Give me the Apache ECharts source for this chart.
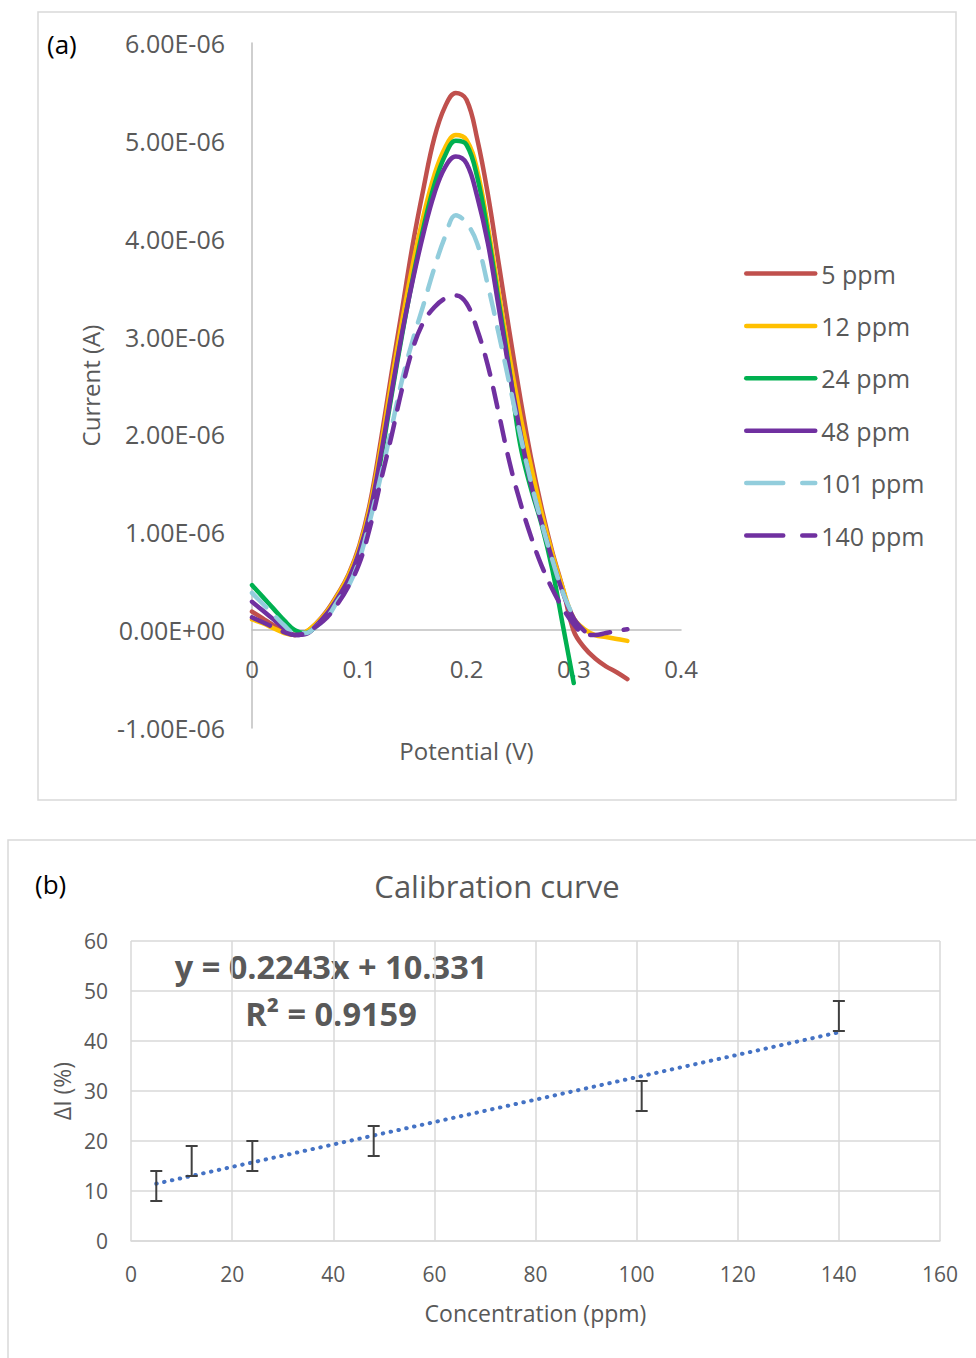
<!DOCTYPE html>
<html>
<head>
<meta charset="utf-8">
<title>Voltammetry and calibration curve</title>
<script src="https://cdn.jsdelivr.net/npm/echarts@6.0.0/dist/echarts.min.js"></script>
<style>
  html, body { margin: 0; padding: 0; background: #fff; }
  #chart { width: 976px; height: 1358px; }
</style>
</head>
<body>
<div id="chart"></div>
<script>
// ---- panel (a): current (x1e-6 A) vs potential (V)
const potential = [0, 0.01, 0.02, 0.03, 0.04, 0.05, 0.06, 0.07, 0.08, 0.09,
  0.10, 0.11, 0.12, 0.13, 0.14, 0.15, 0.16, 0.17, 0.18, 0.19,
  0.20, 0.21, 0.22, 0.23, 0.24, 0.25, 0.26, 0.27, 0.28, 0.29,
  0.30, 0.31, 0.32, 0.33, 0.34, 0.35];
const cur5 = [0.19, 0.12, 0.05, -0.01, -0.05, -0.02, 0.07, 0.20, 0.37, 0.57,
  0.86, 1.30, 1.93, 2.62, 3.28, 3.95, 4.52, 5.03, 5.35, 5.49,
  5.42, 5.02, 4.45, 3.75, 3.05, 2.38, 1.77, 1.25, 0.80, 0.42,
  -0.01, -0.18, -0.29, -0.37, -0.43, -0.50];
const cur12 = [0.11, 0.07, 0.02, -0.03, -0.05, -0.02, 0.07, 0.19, 0.36, 0.56,
  0.84, 1.26, 1.86, 2.53, 3.16, 3.74, 4.24, 4.65, 4.93, 5.06,
  5.01, 4.70, 4.12, 3.45, 2.80, 2.20, 1.68, 1.20, 0.78, 0.42,
  0.12, 0.01, -0.05, -0.07, -0.09, -0.11];
const cur24 = [0.46, 0.34, 0.22, 0.10, 0.00, -0.03, 0.04, 0.15, 0.31, 0.50,
  0.78, 1.18, 1.74, 2.39, 3.02, 3.60, 4.12, 4.55, 4.85, 5.00,
  4.96, 4.63, 4.05, 3.36, 2.66, 1.90, 1.45, 1.08, 0.62, 0.04,
  -0.54];
const cur48 = [0.29, 0.20, 0.11, 0.02, -0.05, -0.04, 0.05, 0.17, 0.33, 0.52,
  0.80, 1.20, 1.78, 2.42, 3.04, 3.58, 4.06, 4.46, 4.73, 4.84,
  4.77, 4.43, 3.95, 3.30, 2.64, 2.03, 1.50, 1.10, 0.72, 0.38,
  0.12, -0.01];
const cur101 = [0.38, 0.27, 0.16, 0.05, -0.03, -0.03, 0.04, 0.13, 0.30, 0.45,
  0.72, 1.12, 1.57, 2.06, 2.56, 2.97, 3.33, 3.70, 4.02, 4.24,
  4.16, 3.95, 3.52, 3.03, 2.52, 2.00, 1.52, 1.10, 0.72, 0.38,
  0.13];
const cur140 = [0.13, 0.08, 0.03, -0.02, -0.05, -0.03, 0.04, 0.13, 0.27, 0.45,
  0.68, 1.05, 1.52, 1.98, 2.47, 2.88, 3.15, 3.30, 3.39, 3.42,
  3.34, 3.07, 2.70, 2.22, 1.72, 1.31, 0.96, 0.66, 0.42, 0.22,
  0.06, -0.04, -0.05, -0.03, -0.01, 0.01];
const seriesNames = ['5 ppm', '12 ppm', '24 ppm', '48 ppm', '101 ppm', '140 ppm'];
const yTicksA = ['-1.00E-06', '0.00E+00', '1.00E-06', '2.00E-06', '3.00E-06',
  '4.00E-06', '5.00E-06', '6.00E-06'];

// ---- panel (b): calibration
const concentration = [5, 12, 24, 48, 101, 140];
const deltaI = [11, 16, 17, 20, 29, 45];
const deltaErr = [3, 3, 3, 3, 3, 3];
const fitCoef = [0.2243, 10.331];   // slope, intercept from the chart
const fitRange = [5, 140];

const FONT = '"Open Sans", "Noto Sans", sans-serif';
const TXT = '#595959';

function pairs(ys) {
  return ys.map((y, i) => [potential[i], y]);
}

const styles = [
  { color: '#C0504D', type: 'solid' },
  { color: '#FFC000', type: 'solid' },
  { color: '#00B050', type: 'solid' },
  { color: '#7030A0', type: 'solid' },
  { color: '#92CDDC', type: [20, 14] },
  { color: '#7030A0', type: [20, 14] }
];
const currents = [cur5, cur12, cur24, cur48, cur101, cur140];

const lineSeries = currents.map((ys, i) => ({
  name: seriesNames[i],
  type: 'line',
  xAxisIndex: 0,
  yAxisIndex: 0,
  data: pairs(ys),
  smooth: 0.4,
  symbol: 'none',
  color: styles[i].color,
  lineStyle: { width: 4.5, color: styles[i].color, type: styles[i].type, cap: 'round', join: 'round' }
}));

const errData = concentration.map((c, i) => [c, deltaI[i] - deltaErr[i], deltaI[i] + deltaErr[i]]);
const fitData = fitRange.map(x => [x, fitCoef[0] * x + fitCoef[1]]);

const chart = echarts.init(document.getElementById('chart'), null, { renderer: 'svg' });

chart.setOption({
  animation: false,
  textStyle: { fontFamily: FONT },
  grid: [
    { left: 252, top: 43, width: 429, height: 685 },
    { left: 131, top: 941, width: 809, height: 300 }
  ],
  legend: {
    orient: 'vertical',
    left: 744,
    top: 261,
    padding: 0,
    itemWidth: 69,
    itemHeight: 24,
    itemGap: 27.4,
    itemStyle: { opacity: 0 },
    lineStyle: { width: 4.5, cap: 'round' },
    textStyle: { color: TXT, fontSize: 25, fontFamily: FONT, padding: [0, 0, 0, 1] },
    data: seriesNames.map((n, i) => i < 4 ? { name: n } :
      { name: n, lineStyle: { width: 4.5, type: [37, 19], cap: 'round' } })
  },
  xAxis: [
    {
      gridIndex: 0, type: 'value', min: 0, max: 0.4, interval: 0.1,
      position: 'bottom', offset: -685 / 7,
      name: 'Potential (V)', nameLocation: 'middle', nameGap: 108,
      nameTextStyle: { color: TXT, fontSize: 24, fontFamily: FONT },
      axisLine: { onZero: false, lineStyle: { color: '#BFBFBF', width: 1.5 } },
      axisTick: { show: false },
      splitLine: { show: false },
      axisLabel: { color: TXT, fontSize: 24, margin: 26, fontFamily: FONT }
    },
    {
      gridIndex: 1, type: 'value', min: 0, max: 160, interval: 20,
      name: 'Concentration (ppm)', nameLocation: 'middle', nameGap: 60,
      nameTextStyle: { color: TXT, fontSize: 23, fontFamily: FONT },
      axisLine: { lineStyle: { color: '#D9D9D9', width: 1.5 } },
      axisTick: { show: false },
      splitLine: { show: true, lineStyle: { color: '#D9D9D9', width: 1.5 } },
      axisLabel: { color: TXT, fontSize: 21, margin: 22, fontFamily: FONT }
    }
  ],
  yAxis: [
    {
      gridIndex: 0, type: 'value', min: -1, max: 6, interval: 1,
      name: 'Current (A)', nameLocation: 'middle', nameGap: 150,
      nameTextStyle: { color: TXT, fontSize: 24, fontFamily: FONT },
      axisLine: { show: true, onZero: false, lineStyle: { color: '#BFBFBF', width: 1.5 } },
      axisTick: { show: false },
      splitLine: { show: false },
      axisLabel: {
        color: TXT, fontSize: 25, margin: 27, fontFamily: FONT,
        formatter: v => yTicksA[Math.round(v) + 1]
      }
    },
    {
      gridIndex: 1, type: 'value', min: 0, max: 60, interval: 10,
      name: 'ΔI (%)', nameLocation: 'middle', nameGap: 57,
      nameTextStyle: { color: TXT, fontSize: 23, fontFamily: FONT },
      axisLine: { show: false },
      axisTick: { show: false },
      splitLine: { show: true, lineStyle: { color: '#D9D9D9', width: 1.5 } },
      axisLabel: { color: TXT, fontSize: 21, margin: 23, fontFamily: FONT }
    }
  ],
  series: lineSeries.concat([
    {
      name: 'trend',
      type: 'line',
      xAxisIndex: 1,
      yAxisIndex: 1,
      data: fitData,
      symbol: 'none',
      lineStyle: { color: '#4472C4', width: 4, type: [0.5, 7.5], cap: 'round' },
      z: 3
    },
    {
      name: 'error',
      type: 'custom',
      xAxisIndex: 1,
      yAxisIndex: 1,
      data: errData,
      z: 4,
      renderItem: function (params, api) {
        const x = api.value(0);
        const top = api.coord([x, api.value(2)]);
        const bot = api.coord([x, api.value(1)]);
        const w = 6;
        const st = { stroke: '#404040', lineWidth: 2 };
        return {
          type: 'group',
          children: [
            { type: 'line', shape: { x1: top[0], y1: top[1], x2: bot[0], y2: bot[1] }, style: st },
            { type: 'line', shape: { x1: top[0] - w, y1: top[1], x2: top[0] + w, y2: top[1] }, style: st },
            { type: 'line', shape: { x1: bot[0] - w, y1: bot[1], x2: bot[0] + w, y2: bot[1] }, style: st }
          ]
        };
      }
    }
  ]),
  graphic: [
    { type: 'rect', shape: { x: 38, y: 12, width: 918, height: 788 },
      style: { fill: 'none', stroke: '#D9D9D9', lineWidth: 1.5 }, silent: true },
    { type: 'rect', shape: { x: 8, y: 840, width: 1000, height: 600 },
      style: { fill: 'none', stroke: '#D9D9D9', lineWidth: 1.5 }, silent: true },
    { type: 'text', x: 47, y: 44,
      style: { text: '(a)', fill: '#000', font: '26px ' + FONT, textVerticalAlign: 'middle' } },
    { type: 'text', x: 35, y: 884,
      style: { text: '(b)', fill: '#000', font: '26px ' + FONT, textVerticalAlign: 'middle' } },
    { type: 'text', x: 497, y: 886,
      style: { text: 'Calibration curve', fill: TXT, font: '31px ' + FONT, textAlign: 'center', textVerticalAlign: 'middle' } },
    { type: 'text', x: 331, y: 966,
      style: { text: 'y = 0.2243x + 10.331', fill: TXT, font: 'bold 32.5px ' + FONT, textAlign: 'center', textVerticalAlign: 'middle' } },
    { type: 'text', x: 331, y: 1013,
      style: { text: 'R² = 0.9159', fill: TXT, font: 'bold 32.5px ' + FONT, textAlign: 'center', textVerticalAlign: 'middle' } }
  ]
});
</script>
</body>
</html>
